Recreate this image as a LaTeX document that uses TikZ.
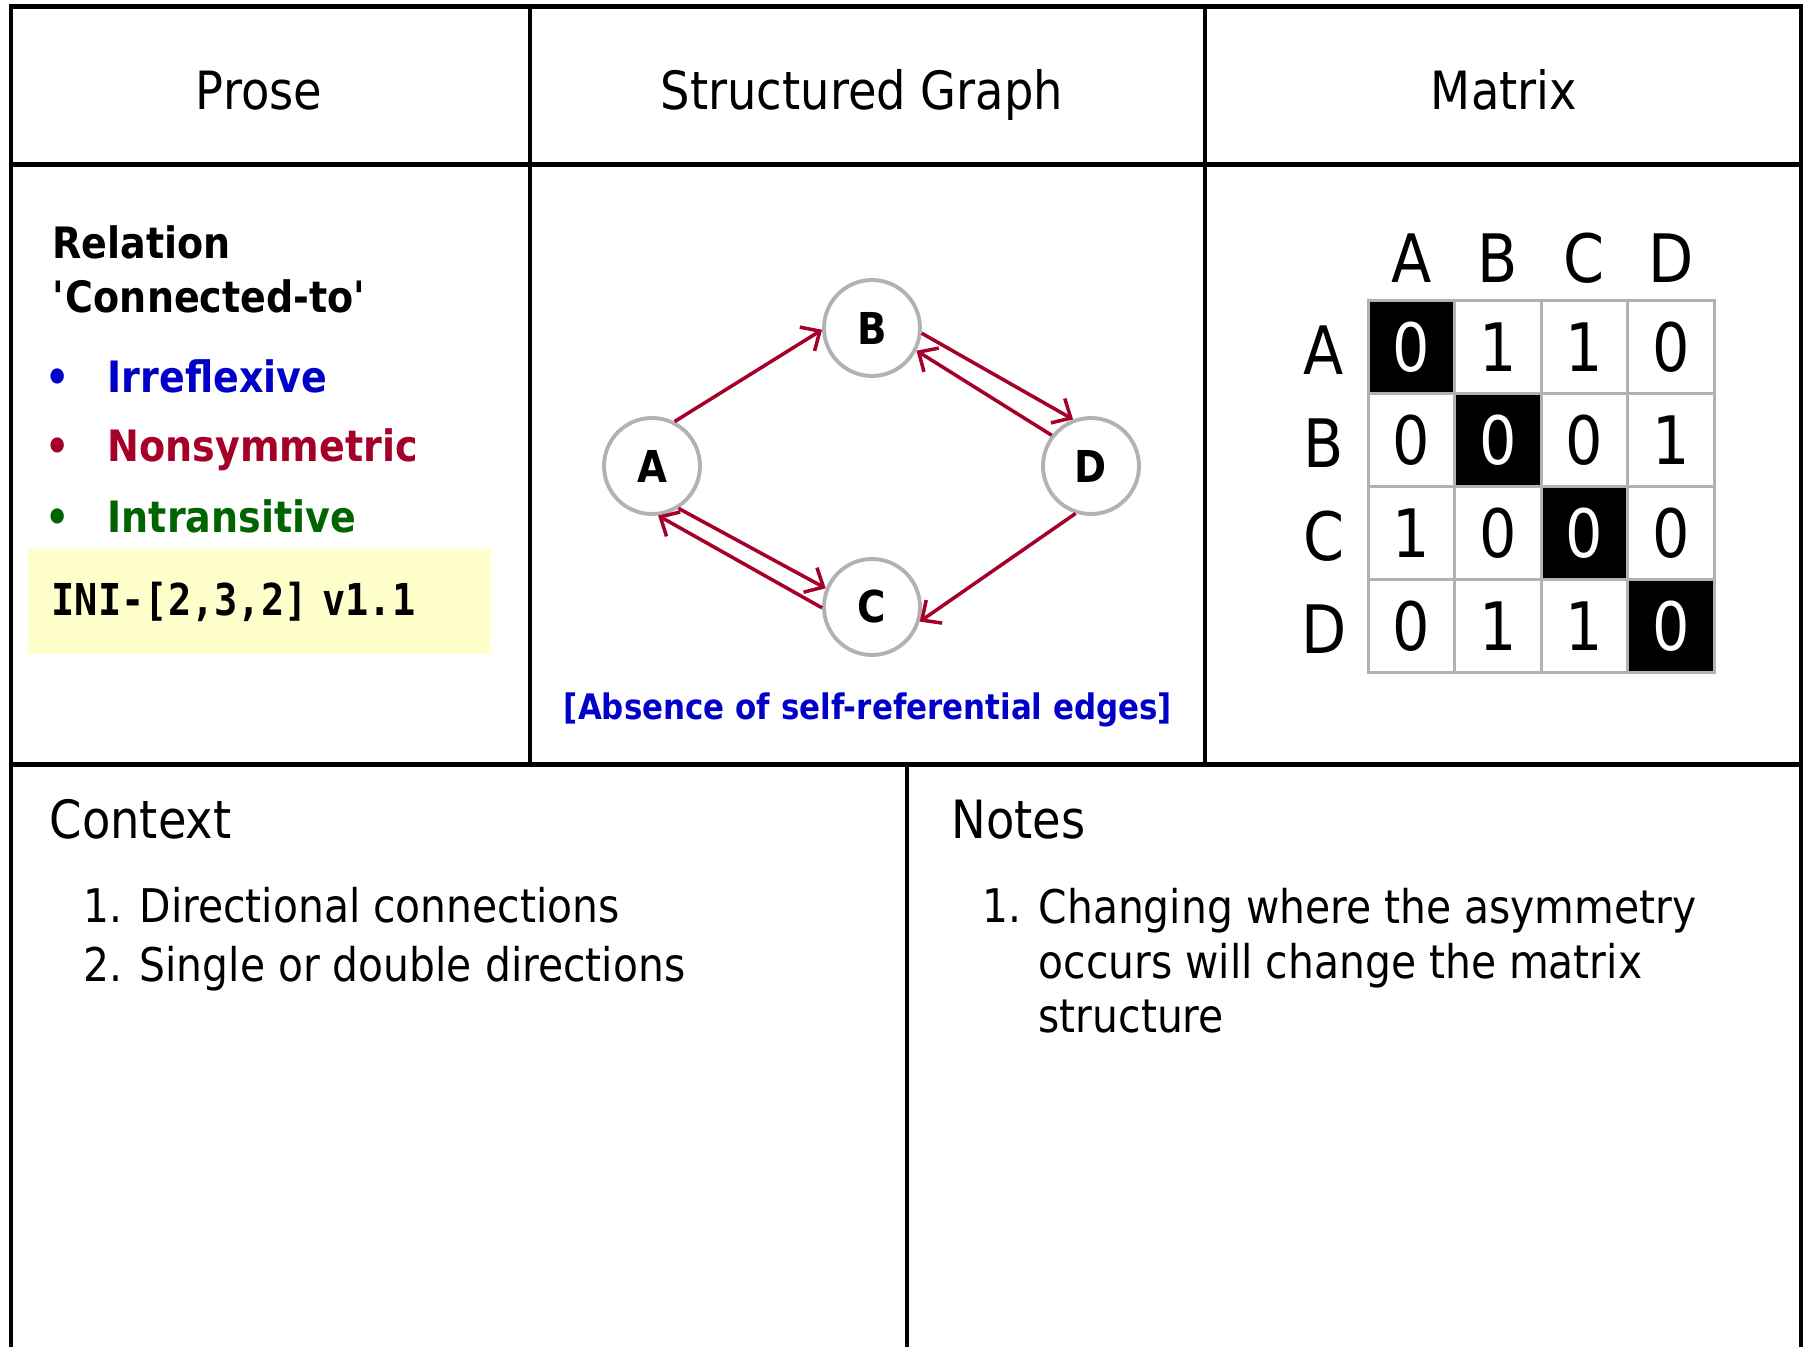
\documentclass[tikz,border=0pt]{standalone}
\usepackage{fontspec}
\setmainfont{DejaVu Sans}[FakeStretch=0.88]
\setmonofont{DejaVu Sans Mono}[FakeStretch=0.88]
\usepackage{xcolor}
\usepackage{tikz}
\usetikzlibrary{arrows.meta, positioning, calc}
\definecolor{relblue}{RGB}{0,0,200}
\definecolor{relred}{RGB}{165,0,40}
\definecolor{relgreen}{RGB}{0,100,0}
\definecolor{codeyellow}{RGB}{255,255,204}
\definecolor{ringgray}{RGB}{178,178,178}
\tikzset{
    frame/.style={
        line width=1.4pt, draw=black
    },
    title_text/.style={
        anchor=base, inner sep=0pt, font=\fontsize{15}{18}\selectfont
    },
    section_text/.style={
        anchor=base west, inner sep=0pt, font=\fontsize{15}{18}\selectfont
    },
    list_text/.style={
        anchor=base west, inner sep=0pt, font=\fontsize{13.2}{15.4}\selectfont
    },
    prose_text/.style={
        anchor=base west, inner sep=0pt, font=\fontsize{12.3}{15}\selectfont\bfseries
    },
    bullet_dot/.style={
        anchor=base, inner sep=0pt, font=\fontsize{12.3}{15}\selectfont\bfseries
    },
    code_box/.style={
        rectangle, fill=codeyellow, minimum width=4.626cm, minimum height=1.05cm,
        text width=4.152cm, inner xsep=0.237cm, inner ysep=0pt, align=left,
        font=\fontsize{12.5}{15}\selectfont\ttfamily\bfseries
    },
    graph_node/.style={
        circle, draw=ringgray, line width=1.1pt, fill=white, minimum size=0.96cm,
        inner sep=0pt, font=\fontsize{12.5}{15}\selectfont\bfseries
    },
    rel_arrow/.style={
        line width=1pt, draw=relred, -{Straight Barb[length=1.5mm, width=2.8mm]}
    },
    cell/.style={
        rectangle, draw=ringgray, line width=0.85pt, minimum width=0.866cm,
        minimum height=0.933cm, inner sep=0pt, font=\fontsize{19}{22}\selectfont
    },
    cell_diag/.style={
        cell, fill=black, text=white
    },
    axis_label/.style={
        inner sep=0pt, font=\fontsize{19}{22}\selectfont
    }
}

\begin{document}
\begin{tikzpicture}
    \useasboundingbox (0,0) rectangle (18.03,13.47);

    % Tabla
    \draw[frame] (0.11,0) -- (0.11,13.405) -- (18.01,13.405) -- (18.01,0);
    \draw[frame] (0.11,11.825) -- (18.01,11.825);
    \draw[frame] (0.11,5.825) -- (18.01,5.825);
    \draw[frame] (5.30,13.405) -- (5.30,5.825);
    \draw[frame] (12.05,13.405) -- (12.05,5.825);
    \draw[frame] (9.07,5.825) -- (9.07,0);

    % Titulos
    \node[title_text] (prose_title) at (2.59, 12.37) {Prose};
    \node[title_text] (graph_title) at (8.62, 12.37) {Structured Graph};
    \node[title_text] (matrix_title) at (15.04, 12.37) {Matrix};

    % Prosa
    \node[prose_text] (rel_name) at (0.517, 10.88) {Relation};
    \node[prose_text] (rel_quote) at (0.52, 10.345) {\textquotesingle Connected-to\textquotesingle};
    \node[bullet_dot, text=relblue] (dot_irr) at (0.575, 9.54) {•};
    \node[prose_text, text=relblue] (txt_irr) at (1.07, 9.54) {Irreflexive};
    \node[bullet_dot, text=relred] (dot_non) at (0.575, 8.85) {•};
    \node[prose_text, text=relred] (txt_non) at (1.07, 8.85) {Nonsymmetric};
    \node[bullet_dot, text=relgreen] (dot_int) at (0.575, 8.14) {•};
    \node[prose_text, text=relgreen] (txt_int) at (1.07, 8.14) {Intransitive};
    \node[code_box] (code_tag) at (2.593, 7.455) {INI-[2,3,2] v1.1};

    % Grafo
    \node[graph_node] (node_a) at (6.52, 8.81) {A};
    \node[graph_node] (node_b) at (8.72, 10.19) {B};
    \node[graph_node] (node_c) at (8.72, 7.40) {C};
    \node[graph_node] (node_d) at (10.91, 8.81) {D};
    \draw[rel_arrow] (node_a.63) -- (node_b.182);
    \draw[rel_arrow] (node_b.-6) -- (node_d.111);
    \draw[rel_arrow] (node_d.142) -- (node_b.-27);
    \draw[rel_arrow] (node_a.-58) -- (node_c.158);
    \draw[rel_arrow] (node_c.181) -- (node_a.-83);
    \draw[rel_arrow] (node_d.-108) -- (node_c.-17);
    \node[anchor=base, inner sep=0pt, text=relblue, font=\fontsize{10}{12}\selectfont\bfseries] (graph_note) at (8.68, 6.27) {[Absence of self-referential edges]};

    % Matriz
    \node[axis_label] (col_a) at (14.113, 10.89) {A};
    \node[axis_label] (col_b) at (14.979, 10.89) {B};
    \node[axis_label] (col_c) at (15.845, 10.89) {C};
    \node[axis_label] (col_d) at (16.711, 10.89) {D};
    \node[axis_label] (row_a) at (13.24, 9.97) {A};
    \node[axis_label] (row_b) at (13.24, 9.04) {B};
    \node[axis_label] (row_c) at (13.24, 8.11) {C};
    \node[axis_label] (row_d) at (13.24, 7.18) {D};

    \node[cell_diag] (m_aa) at (14.113, 10.00) {0};
    \node[cell] (m_ab) at (14.979, 10.00) {1};
    \node[cell] (m_ac) at (15.845, 10.00) {1};
    \node[cell] (m_ad) at (16.711, 10.00) {0};
    \node[cell] (m_ba) at (14.113, 9.07) {0};
    \node[cell_diag] (m_bb) at (14.979, 9.07) {0};
    \node[cell] (m_bc) at (15.845, 9.07) {0};
    \node[cell] (m_bd) at (16.711, 9.07) {1};
    \node[cell] (m_ca) at (14.113, 8.14) {1};
    \node[cell] (m_cb) at (14.979, 8.14) {0};
    \node[cell_diag] (m_cc) at (15.845, 8.14) {0};
    \node[cell] (m_cd) at (16.711, 8.14) {0};
    \node[cell] (m_da) at (14.113, 7.21) {0};
    \node[cell] (m_db) at (14.979, 7.21) {1};
    \node[cell] (m_dc) at (15.845, 7.21) {1};
    \node[cell_diag] (m_dd) at (16.711, 7.21) {0};

    % Contexto
    \node[section_text] (context_title) at (0.49, 5.08) {Context};
    \node[list_text] (ctx_num1) at (0.83, 4.24) {1.};
    \node[list_text] (ctx_item1) at (1.39, 4.24) {Directional connections};
    \node[list_text] (ctx_num2) at (0.83, 3.65) {2.};
    \node[list_text] (ctx_item2) at (1.39, 3.65) {Single or double directions};

    % Notas
    \node[section_text] (notes_title) at (9.51, 5.08) {Notes};
    \node[list_text] (note_num1) at (9.82, 4.24) {1.};
    \node[list_text, anchor=north west, align=left] (note_item1) at (10.38, 4.59) {Changing where the asymmetry\\occurs will change the matrix\\structure};
\end{tikzpicture}
\end{document}
